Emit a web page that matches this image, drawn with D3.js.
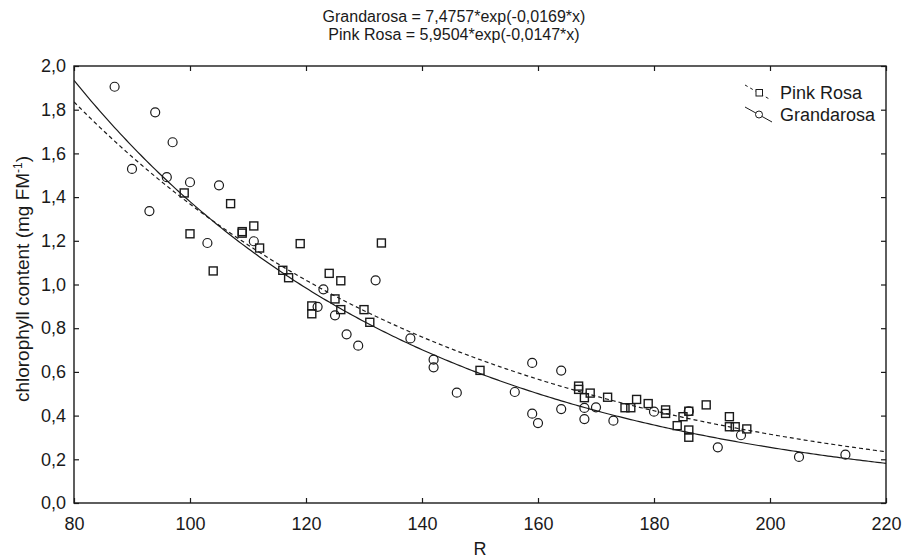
<!DOCTYPE html>
<html>
<head>
<meta charset="utf-8">
<script src="https://cdn.jsdelivr.net/npm/d3@7"></script>
<style>
  body { margin: 0; background: #fff; }
  svg text { font-family: "Liberation Sans", Arial, sans-serif; fill: #1a1a1a; }
</style>
</head>
<body>
<div id="chart"></div>
<script>
// fitted curves: y = a*exp(b*x)
const fitNames = ["Grandarosa", "Pink Rosa"];
const fitA = [7.4757, 5.9504];
const fitB = [-0.0169, -0.0147];

// Grandarosa (circles)
const grandR = [87, 94, 97, 90, 96, 100, 105, 93, 103, 111, 123, 122, 125, 127, 129, 132, 138,
    142, 142, 146, 156, 159, 159, 160, 164, 164, 168, 168, 170, 173, 180, 186, 191, 195, 205, 213];
const grandChl = [1.905, 1.788, 1.651, 1.529, 1.491, 1.468, 1.454, 1.336, 1.19, 1.198, 0.978, 0.898, 0.859, 0.772, 0.72, 1.019, 0.753,
    0.656, 0.621, 0.505, 0.508, 0.641, 0.409, 0.366, 0.606, 0.43, 0.435, 0.384, 0.438, 0.377, 0.418, 0.42, 0.255, 0.31, 0.211, 0.221];

// Pink Rosa (squares)
const pinkR = [99, 107, 100, 109, 109, 111, 112, 104, 119, 133, 116, 117, 124, 126, 125, 126, 130, 131, 121, 121,
    150, 167, 167, 169, 168, 172, 175, 176, 177, 179, 182, 182, 186, 185, 184, 186, 186, 189, 193, 193, 194, 196];
const pinkChl = [1.419, 1.37, 1.232, 1.242, 1.235, 1.268, 1.167, 1.062, 1.187, 1.19, 1.065, 1.031, 1.051, 1.017, 0.934, 0.885, 0.885, 0.827, 0.902, 0.866,
    0.607, 0.535, 0.52, 0.503, 0.482, 0.484, 0.436, 0.436, 0.474, 0.455, 0.426, 0.41, 0.42, 0.395, 0.354, 0.334, 0.301, 0.449, 0.395, 0.349, 0.349, 0.339];

const xTicks = [80, 100, 120, 140, 160, 180, 200, 220];
const yTicks = [0, 0.2, 0.4, 0.6, 0.8, 1.0, 1.2, 1.4, 1.6, 1.8, 2.0];

const W = 903, H = 559;
const margin = { top: 66, right: 17, bottom: 56, left: 74 },
    width = W - margin.left - margin.right,
    height = H - margin.top - margin.bottom;

const svg = d3.select("#chart").append("svg")
    .attr("width", W).attr("height", H);

const g = svg.append("g")
    .attr("transform", `translate(${margin.left},${margin.top})`);

const x = d3.scaleLinear().domain([80, 220]).range([0, width]);
const y = d3.scaleLinear().domain([0, 2]).range([height, 0]);

const fmt = d3.formatLocale({ decimal: ",", thousands: ".", grouping: [3], currency: ["", ""] }).format(".1f");

// axes, ticks pointing inward on all four sides
g.append("g").attr("transform", `translate(0,${height})`)
    .call(d3.axisBottom(x).tickValues(xTicks).tickSizeInner(-5).tickSizeOuter(0).tickPadding(14).tickFormat(d3.format("d")));
g.append("g")
    .call(d3.axisLeft(y).tickValues(yTicks).tickSizeInner(-5).tickSizeOuter(0).tickPadding(8).tickFormat(fmt));
g.append("g")
    .call(d3.axisTop(x).tickValues(xTicks).tickSizeInner(-5).tickSizeOuter(0).tickFormat(""));
g.append("g").attr("transform", `translate(${width},0)`)
    .call(d3.axisRight(y).tickValues(yTicks).tickSizeInner(-5).tickSizeOuter(0).tickFormat(""));

g.selectAll(".domain").remove();
g.selectAll(".tick line").attr("stroke", "#1a1a1a").attr("stroke-width", 1.2);
g.selectAll(".tick text").style("font-size", "18px").attr("fill", "#1a1a1a");

g.append("rect")
    .attr("width", width).attr("height", height)
    .attr("fill", "none").attr("stroke", "#1a1a1a").attr("stroke-width", 1.4);

// clip for curves
svg.append("clipPath").attr("id", "plotclip")
    .append("rect").attr("width", width).attr("height", height);

const xs = d3.range(80, 220.5, 0.5);
const line = d3.line().x(d => x(d[0])).y(d => y(d[1]));

fitA.forEach((a, i) => {
    g.append("path")
        .attr("clip-path", "url(#plotclip)")
        .attr("d", line(xs.map(v => [v, a * Math.exp(fitB[i] * v)])))
        .attr("fill", "none")
        .attr("stroke", "#1a1a1a")
        .attr("stroke-width", 1.2)
        .attr("stroke-dasharray", i === 1 ? "4,3" : null);
});

// squares (Pink Rosa)
const s = 8;
g.append("g").selectAll("rect")
    .data(pinkR.map((r, i) => [r, pinkChl[i]]))
    .join("rect")
    .attr("x", d => x(d[0]) - s / 2)
    .attr("y", d => y(d[1]) - s / 2)
    .attr("width", s).attr("height", s)
    .attr("fill", "none").attr("stroke", "#1a1a1a").attr("stroke-width", 1.4);

// circles (Grandarosa)
g.append("g").selectAll("circle")
    .data(grandR.map((r, i) => [r, grandChl[i]]))
    .join("circle")
    .attr("cx", d => x(d[0]))
    .attr("cy", d => y(d[1]))
    .attr("r", 4.5)
    .attr("fill", "none").attr("stroke", "#1a1a1a").attr("stroke-width", 1.2);

// legend
const legend = svg.append("g");
legend.append("line").attr("x1", 745).attr("y1", 85).attr("x2", 771).attr("y2", 100)
    .attr("stroke", "#1a1a1a").attr("stroke-width", 1).attr("stroke-dasharray", "3,3");
legend.append("rect").attr("x", 756).attr("y", 89.5).attr("width", 6.5).attr("height", 6.5)
    .attr("fill", "#fff").attr("stroke", "#1a1a1a").attr("stroke-width", 1);
legend.append("text").attr("x", 780).attr("y", 99).style("font-size", "18px").text(fitNames[1]);

legend.append("line").attr("x1", 745).attr("y1", 107).attr("x2", 772).attr("y2", 122)
    .attr("stroke", "#1a1a1a").attr("stroke-width", 1);
legend.append("circle").attr("cx", 759).attr("cy", 114.5).attr("r", 3.5)
    .attr("fill", "#fff").attr("stroke", "#1a1a1a").attr("stroke-width", 1);
legend.append("text").attr("x", 780).attr("y", 121).style("font-size", "18px").text(fitNames[0]);

// title with equations
const eq = (i) => `${fitNames[i]} = ${fmtCoef(fitA[i])}*exp(${fmtCoef(fitB[i])}*x)`;
function fmtCoef(v) { return String(v).replace(".", ","); }
svg.append("text").attr("x", 454).attr("y", 22).attr("text-anchor", "middle")
    .style("font-size", "16px").text(eq(0));
svg.append("text").attr("x", 454).attr("y", 40).attr("text-anchor", "middle")
    .style("font-size", "16px").text(eq(1));

// axis titles
svg.append("text").attr("x", 480).attr("y", 555).attr("text-anchor", "middle")
    .style("font-size", "18px").text("R");

const yl = svg.append("text")
    .attr("transform", `translate(29,279) rotate(-90)`)
    .attr("text-anchor", "middle").style("font-size", "19px");
yl.append("tspan").text("chlorophyll content (mg FM");
yl.append("tspan").attr("dy", -7).style("font-size", "12px").text("-1");
yl.append("tspan").attr("dy", 7).text(")");
</script>
</body>
</html>
